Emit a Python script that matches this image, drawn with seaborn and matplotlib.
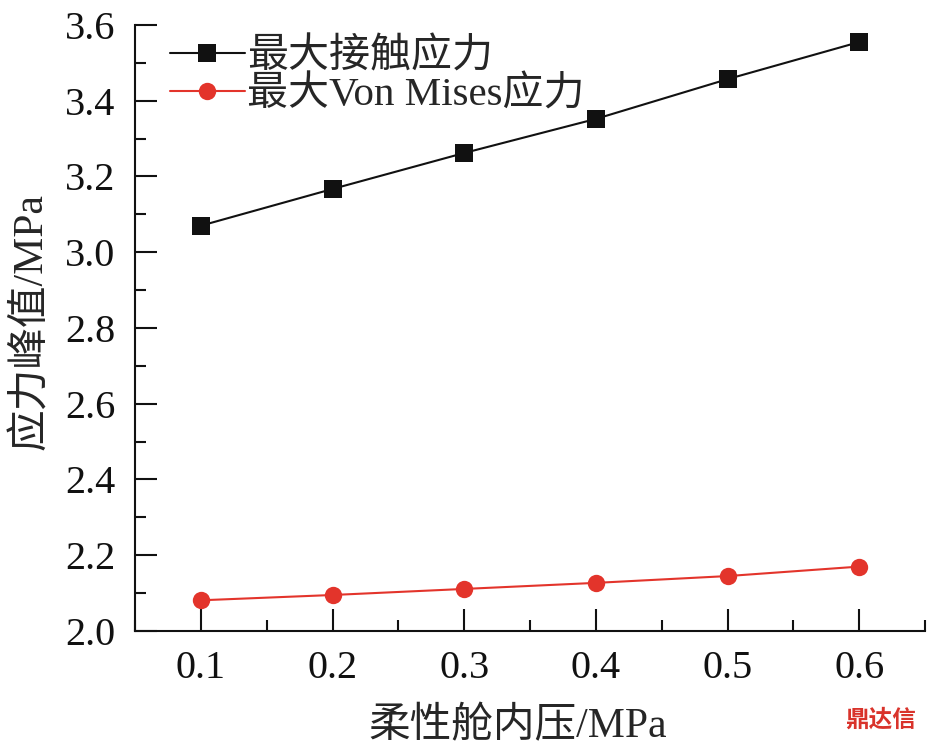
import numpy as np
import pandas as pd
import matplotlib
matplotlib.use("Agg")
import matplotlib.pyplot as plt
import seaborn as sns
from matplotlib.ticker import MultipleLocator

# 数据
pressure = [0.1, 0.2, 0.3, 0.4, 0.5, 0.6]
contact_stress = [3.07, 3.167, 3.262, 3.352, 3.457, 3.555]
mises_stress = [2.081, 2.095, 2.111, 2.127, 2.145, 2.170]
series_names = ["最大接触应力", "最大Von Mises应力"]

df = pd.DataFrame({
    "x": pressure * 2,
    "y": contact_stress + mises_stress,
    "s": [series_names[0]] * 6 + [series_names[1]] * 6,
})

sns.set_style("ticks")
plt.rcParams["font.family"] = ["Liberation Serif", "Noto Sans CJK SC"]

fig = plt.figure(figsize=(9.27, 7.5), dpi=100)
ax = fig.add_axes([0.1456, 0.1587, 0.8524, 0.808])

sns.lineplot(
    data=df, x="x", y="y", hue="s", style="s",
    palette={series_names[0]: "#111111", series_names[1]: "#e3342b"},
    markers={series_names[0]: "s", series_names[1]: "o"},
    dashes=False, linewidth=1.5, markersize=12.5, markeredgewidth=0,
    ax=ax,
)

ax.set_xlim(0.05, 0.65)
ax.set_ylim(2.0, 3.6)
ax.xaxis.set_major_locator(MultipleLocator(0.1))
ax.xaxis.set_minor_locator(MultipleLocator(0.05))
ax.yaxis.set_major_locator(MultipleLocator(0.2))
ax.yaxis.set_minor_locator(MultipleLocator(0.1))
ax.xaxis.set_major_formatter(plt.FormatStrFormatter("%.1f"))
ax.yaxis.set_major_formatter(plt.FormatStrFormatter("%.1f"))
ax.tick_params(which="major", direction="in", length=16, width=1.5, labelsize=29, pad=14, colors="#111111")
ax.tick_params(which="minor", direction="in", length=8, width=1.5, colors="#111111")
for side in ["top", "right"]:
    ax.spines[side].set_visible(False)
for side in ["left", "bottom"]:
    ax.spines[side].set_linewidth(1.5)
    ax.spines[side].set_color("#111111")

ax.set_xlabel("柔性舱内压/MPa", fontsize=30)
ax.set_ylabel("应力峰值/MPa", fontsize=30)
ax.xaxis.set_label_coords(0.484, -0.125)
ax.yaxis.set_label_coords(-0.106, 0.51)

leg = ax.legend(loc="upper left", bbox_to_anchor=(0.023, 1.005), frameon=False,
                fontsize=29.5, handlelength=1.85, handletextpad=0.05, labelspacing=0.0,
                borderaxespad=0)
for h in leg.legend_handles:
    h.set_markersize(12.5)

fig.text(0.988, 0.025, "鼎达信", color="#d9332b", fontsize=17, fontweight="bold",
         ha="right", va="bottom", family=["Noto Sans CJK SC"])

fig.savefig("out.png", dpi=100)
